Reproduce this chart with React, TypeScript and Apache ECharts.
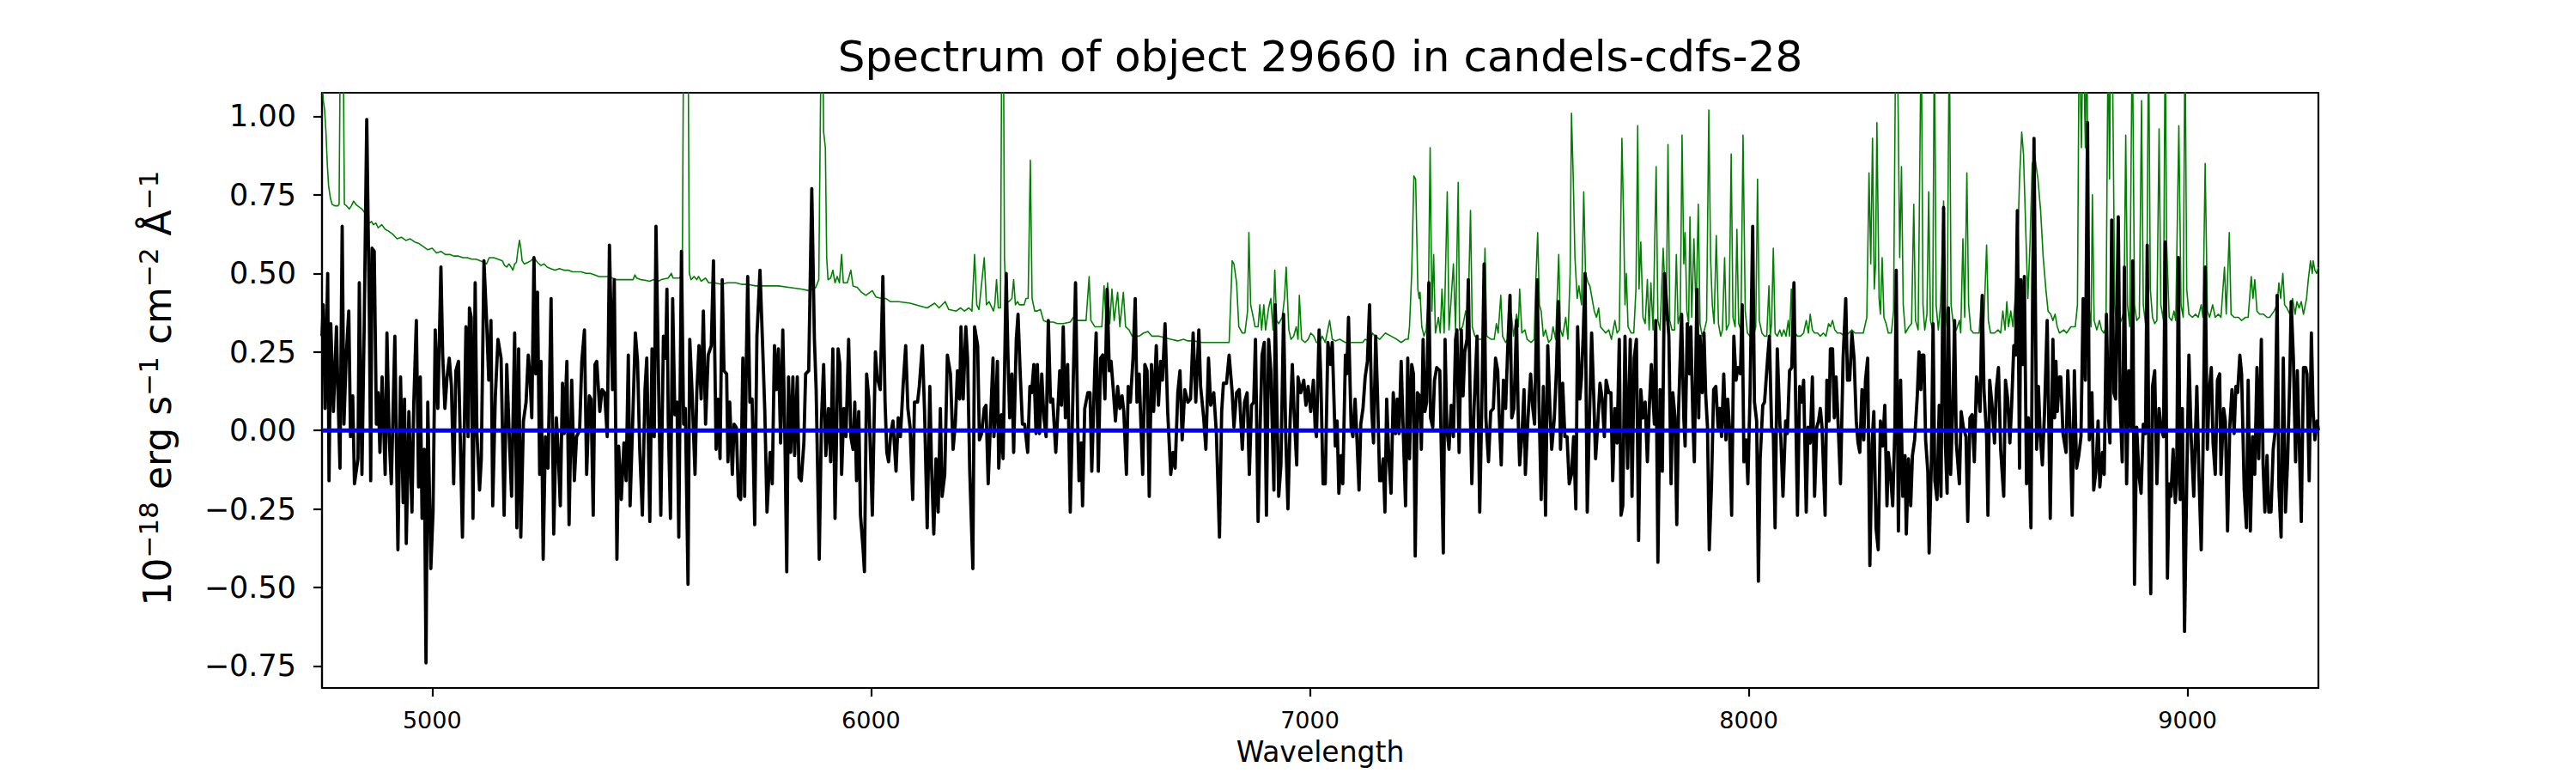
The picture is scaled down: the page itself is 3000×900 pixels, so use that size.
import React, { useEffect, useRef } from 'react';
import * as echarts from 'echarts';

const TITLE = 'Spectrum of object 29660 in candels-cdfs-28';
const X_LABEL = 'Wavelength';
const X_RANGE = [4749, 9298];
const Y_RANGE = [-0.82, 1.075];
const X_TICKS = [5000, 6000, 7000, 8000, 9000];
const Y_TICKS = [-0.75, -0.5, -0.25, 0, 0.25, 0.5, 0.75, 1.0];
const CONTINUUM = [[4749, 0], [9298, 0]];

const FLUX_A = [[4749,0.30],[4752,0.40],[4756,0.07],[4762,0.50],[4765,-0.16],[4769,0.34],[4775,0.06],[4782,0.33],[4785,0.14],[4790,-0.12],[4795,0.65],[4799,0.02],[4804,0.23],[4810,0.38],[4814,-0.02],[4819,0.11],[4823,-0.17],[4831,-0.09],[4834,0.47],[4840,-0.14],[4845,0.32],[4851,0.99],[4857,0.35],[4860,-0.16],[4863,0.58],[4868,0.57],[4873,0.02],[4877,0.12],[4881,-0.07],[4886,0.17],[4893,-0.14],[4897,0.31],[4902,-0.02],[4907,-0.17],[4915,0.30],[4922,-0.38],[4928,0.17],[4934,-0.23],[4937,0.10],[4941,-0.36],[4947,0.06],[4954,-0.26],[4958,0.08],[4964,0.35],[4969,-0.18],[4973,0.17],[4977,-0.28],[4982,-0.06],[4986,-0.74],[4990,0.09],[4997,-0.44],[5002,-0.26],[5007,0.32],[5013,0.07],[5020,0.52],[5024,0.24],[5029,0.07],[5034,0.17],[5039,0.23],[5044,0.14],[5049,-0.17],[5054,0.19],[5060,0.22],[5064,-0.02],[5069,-0.34],[5073,-0.02],[5077,0.33],[5082,-0.02],[5085,0.39],[5089,0.36],[5093,-0.28],[5098,0.47],[5102,-0.01],[5108,-0.19],[5112,-0.09],[5118,0.54],[5124,0.35],[5129,0.16],[5134,0.35],[5138,-0.24],[5144,0.11],[5150,0.29],[5157,0.23],[5164,-0.27],[5170,0.21],[5176,-0.03],[5181,-0.21],[5188,0.31],[5193,-0.31],[5197,0.26],[5202,-0.34],[5208,0.03],[5214,0.09],[5219,0.24],[5223,0.17],[5227,0.04],[5232,0.55],[5236,0.18],[5240,0.44],[5245,-0.14],[5248,0.22],[5253,-0.41],[5258,-0.02],[5264,-0.12],[5271,0.42],[5277,-0.33],[5283,0.04],[5287,-0.06],[5292,-0.24],[5297,0.15],[5301,-0.01],[5307,0.22],[5312,-0.30],[5318,0.16],[5324,-0.16],[5329,-0.02],[5336,0.00],[5341,0.22],[5347,0.32],[5352,-0.14],[5358,0.11],[5362,0.10],[5367,-0.27],[5371,0.21],[5375,0.22],[5382,0.06],[5387,0.13],[5393,0.12],[5399,-0.02],[5404,0.59],[5411,0.13],[5415,0.48],[5421,-0.41],[5425,-0.05],[5431,-0.22],[5437,-0.04],[5442,-0.16],[5447,0.24],[5451,-0.24],[5457,0.03],[5463,0.31],[5468,0.22],[5473,-0.06],[5479,-0.27],[5485,0.13],[5489,0.23],[5496,-0.29],[5501,0.26],[5506,-0.02],[5510,0.65]];

const FLUX_B = [[5521,-0.27],[5527,0.30],[5532,0.23],[5535,0.45],[5538,0.03],[5543,-0.28],[5548,0.42],[5553,0.05],[5558,0.09],[5562,-0.34],[5568,0.57],[5573,0.02],[5577,0.07],[5583,-0.49],[5587,0.29],[5592,0.13],[5599,-0.14],[5603,0.12],[5608,0.27],[5613,0.10],[5618,0.38],[5623,0.02],[5629,0.24],[5636,0.27],[5641,0.54],[5647,-0.06],[5651,0.10],[5656,-0.09],[5661,0.48],[5665,0.19],[5671,0.18],[5674,-0.10],[5678,0.09],[5684,-0.14],[5688,0.02],[5693,0.01],[5698,-0.21],[5703,-0.22],[5708,0.23],[5712,-0.21],[5716,0.23],[5719,0.49],[5724,0.09],[5729,0.10],[5735,-0.30],[5740,0.30],[5747,0.51],[5753,0.27],[5758,0.06],[5763,-0.26],[5770,-0.07],[5775,-0.17],[5780,0.27],[5784,0.13],[5789,0.26],[5794,-0.04],[5799,0.32],[5804,-0.04],[5808,-0.45],[5812,0.17],[5817,-0.07],[5822,0.17],[5826,-0.08],[5832,0.17],[5836,-0.15],[5841,-0.16],[5847,-0.04],[5851,0.18],[5858,0.19],[5865,0.77],[5871,0.29],[5875,0.13],[5882,-0.41],[5887,0.03],[5892,0.21],[5897,-0.08],[5903,0.07],[5908,-0.10],[5913,0.26],[5918,-0.28],[5925,0.26],[5929,0.21],[5933,-0.14],[5938,0.07],[5943,-0.02],[5949,0.29],[5954,-0.02],[5959,-0.06],[5963,0.09],[5967,-0.16],[5972,0.06],[5976,-0.27],[5982,-0.38],[5985,-0.45],[5990,0.18],[5995,0.10],[6003,-0.27],[6010,0.25],[6014,0.17],[6021,0.13],[6027,0.49],[6032,0.09],[6036,-0.07],[6040,-0.10],[6045,-0.01],[6050,0.03],[6057,-0.13],[6062,0.04],[6067,-0.02],[6073,0.14],[6079,0.27],[6084,0.07],[6089,0.01],[6095,-0.22],[6099,0.09],[6106,0.09],[6110,0.14],[6117,0.27],[6122,0.06],[6128,-0.31],[6134,0.14],[6138,-0.12],[6143,-0.33],[6148,-0.09],[6153,-0.26],[6158,0.07],[6162,-0.21],[6168,-0.14],[6174,0.24],[6181,0.18],[6187,-0.06],[6192,0.02],[6197,0.19],[6202,0.10],[6205,0.33],[6210,0.10],[6216,0.33],[6220,0.23],[6225,-0.13],[6232,-0.44],[6236,0.33],[6243,0.27],[6247,-0.03],[6252,-0.01],[6258,0.07],[6262,0.08],[6267,-0.17],[6272,0.02],[6278,0.23]];

const FLUX_C = [[6280,-0.02],[6284,0.06],[6288,0.22],[6291,-0.12],[6297,0.05],[6301,-0.09],[6308,0.50],[6312,0.24],[6316,0.04],[6321,0.18],[6325,-0.07],[6331,0.29],[6335,0.37],[6340,0.18],[6345,0.02],[6350,0.02],[6357,-0.07],[6362,0.14],[6366,0.12],[6371,0.21],[6376,-0.01],[6379,0.21],[6384,-0.01],[6389,0.18],[6394,0.04],[6399,-0.02],[6404,0.35],[6409,0.09],[6414,0.10],[6421,-0.07],[6425,0.04],[6430,0.19],[6434,0.08],[6438,0.33],[6443,0.04],[6448,0.21],[6454,-0.26],[6460,0.11],[6466,0.47],[6471,0.02],[6474,-0.16],[6479,-0.04],[6482,-0.24],[6487,0.07],[6494,0.12],[6499,0.12],[6503,-0.13],[6510,0.20],[6513,0.31],[6518,-0.13],[6523,0.23],[6528,0.24],[6533,0.10],[6538,0.45],[6543,0.19],[6547,0.22],[6552,0.13],[6557,0.03],[6562,0.14],[6567,0.07],[6572,0.11],[6576,0.06],[6582,-0.14],[6586,0.14],[6591,0.09],[6597,0.23],[6602,0.42],[6606,0.09],[6611,0.18],[6616,-0.02],[6619,-0.14],[6624,0.21],[6629,0.19],[6634,-0.21],[6639,0.21],[6644,0.06],[6650,0.27],[6655,0.08],[6660,0.22],[6664,0.16],[6670,0.34],[6676,0.06],[6683,-0.14],[6688,-0.07],[6693,-0.12],[6699,0.12],[6704,0.19],[6709,-0.03],[6715,0.13],[6722,0.09],[6728,0.10],[6734,0.31],[6740,0.09],[6747,0.32],[6751,0.14],[6758,0.04],[6763,-0.06],[6769,0.23],[6774,0.08],[6781,0.12],[6787,-0.01],[6794,-0.34],[6799,0.06],[6803,0.15],[6810,0.15],[6816,0.24],[6823,0.12],[6827,0.01],[6833,0.12],[6839,0.13],[6846,-0.06],[6851,0.09],[6857,0.12],[6862,-0.14],[6867,0.08],[6872,0.09],[6876,0.29],[6882,-0.29],[6886,-0.02],[6891,0.24],[6896,0.28],[6901,-0.27],[6906,0.29],[6911,0.19],[6918,-0.19],[6921,0.40],[6925,0.07],[6929,-0.21],[6934,-0.11],[6940,0.37],[6945,-0.02],[6950,-0.25],[6955,0.03],[6960,0.21],[6964,0.06],[6970,-0.11],[6973,0.17],[6979,0.12],[6986,0.16],[6991,0.08],[6996,0.14],[7002,0.06],[7008,0.16],[7012,0.01],[7015,-0.02],[7021,0.32],[7025,0.16],[7030,-0.17],[7035,-0.17],[7041,0.28]];

const FLUX_D = [[7047,0.21],[7051,0.28],[7058,-0.05],[7062,0.03],[7066,-0.20],[7071,-0.08],[7075,-0.17],[7081,0.24],[7084,0.18],[7088,0.36],[7094,0.01],[7098,-0.02],[7103,0.10],[7107,-0.02],[7112,-0.19],[7116,0.02],[7121,0.07],[7126,0.17],[7131,0.22],[7136,0.40],[7141,0.06],[7145,-0.04],[7150,0.30],[7154,0.12],[7159,-0.16],[7163,-0.16],[7167,-0.09],[7171,-0.26],[7175,0.10],[7180,-0.09],[7185,-0.20],[7190,0.12],[7195,-0.01],[7199,0.10],[7203,-0.01],[7208,0.22],[7212,0.03],[7218,-0.24],[7223,0.23],[7227,-0.09],[7232,0.21],[7236,0.18],[7240,-0.40],[7245,0.12],[7250,0.11],[7254,-0.06],[7258,0.29],[7262,0.06],[7266,0.09],[7271,0.47],[7275,0.04],[7280,0.01],[7284,0.16],[7289,0.20],[7296,0.19],[7304,-0.39],[7308,0.29],[7312,0.01],[7317,-0.06],[7322,0.08],[7327,-0.02],[7332,0.29],[7335,0.32],[7340,-0.07],[7345,0.32],[7349,0.11],[7353,0.25],[7358,0.29],[7361,0.48],[7366,0.03],[7369,-0.17],[7374,0.07],[7381,0.30],[7387,-0.26],[7392,0.10],[7397,0.53],[7401,0.04],[7407,-0.10],[7412,0.06],[7418,0.07],[7423,0.23],[7428,0.19],[7431,0.06],[7436,-0.11],[7441,0.16],[7446,0.07],[7451,0.27],[7456,0.43],[7460,0.04],[7465,0.07],[7471,0.35],[7475,0.02],[7478,-0.11],[7483,-0.02],[7488,0.13],[7491,-0.14],[7497,0.04],[7503,0.18],[7508,0.07],[7512,0.02],[7518,0.48],[7522,0.09],[7527,-0.22],[7532,0.14],[7537,-0.27],[7542,0.27],[7547,0.07],[7551,-0.06],[7557,0.04],[7562,0.20],[7566,0.41],[7571,-0.06],[7576,0.15],[7581,-0.02],[7586,-0.02],[7591,-0.17],[7596,-0.14],[7601,-0.02],[7606,-0.25],[7610,0.33],[7615,0.10],[7619,0.17],[7623,0.31],[7627,0.50],[7632,-0.26],[7636,-0.02],[7642,0.31],[7647,0.10],[7651,-0.09],[7656,0.02],[7661,0.15],[7666,0.10],[7671,-0.02],[7675,0.16],[7681,0.12],[7686,0.12],[7690,-0.16],[7695,0.07],[7700,-0.04],[7705,0.29],[7709,-0.27],[7713,-0.24],[7718,0.30],[7724,-0.12],[7730,0.29],[7734,-0.21],[7739,0.23],[7744,0.29],[7749,-0.35],[7754,0.13],[7759,0.04],[7764,0.09],[7769,-0.10],[7773,0.06],[7778,0.21],[7785,0.02],[7788,0.35],[7793,-0.42],[7798,0.13],[7803,-0.13],[7808,0.50]];

const FLUX_E = [[7818,0.30],[7823,-0.17],[7827,0.12],[7832,0.04],[7836,-0.30],[7840,0.06],[7847,0.37],[7852,0.04],[7855,-0.05],[7860,0.34],[7865,0.18],[7868,0.33],[7873,0.02],[7876,-0.10],[7882,0.45],[7886,0.04],[7889,0.30],[7894,0.12],[7898,0.31],[7902,0.11],[7906,0.01],[7910,-0.38],[7915,-0.18],[7920,0.13],[7925,0.14],[7930,0.01],[7934,0.07],[7938,-0.02],[7943,0.18],[7948,-0.03],[7952,0.10],[7956,0.01],[7961,-0.27],[7966,0.30],[7971,0.16],[7975,0.20],[7981,0.18],[7985,0.40],[7989,-0.10],[7994,-0.03],[7998,-0.17],[8003,0.12],[8009,0.65],[8013,0.09],[8018,0.03],[8022,-0.48],[8026,-0.09],[8032,0.08],[8036,0.09],[8043,0.23],[8047,0.30],[8052,0.01],[8056,-0.01],[8060,-0.31],[8065,0.26],[8071,0.02],[8073,-0.02],[8078,-0.21],[8084,0.03],[8088,-0.01],[8093,0.19],[8098,0.20],[8103,0.47],[8108,-0.02],[8111,-0.27],[8116,0.14],[8121,0.09],[8125,0.16],[8131,-0.26],[8135,0.01],[8140,-0.04],[8145,0.17],[8150,-0.21],[8155,0.01],[8159,0.03],[8163,0.07],[8167,0.01],[8174,-0.27],[8178,0.16],[8183,0.03],[8186,0.26],[8191,0.26],[8195,0.04],[8199,0.17],[8204,0.01],[8209,-0.17],[8215,0.23],[8221,0.42],[8225,0.16],[8230,0.16],[8235,0.31],[8240,0.23],[8245,0.03],[8249,-0.04],[8253,-0.07],[8258,0.13],[8262,-0.03],[8266,0.16],[8271,0.23],[8276,-0.43],[8281,-0.04],[8285,0.06],[8290,-0.31],[8295,-0.38],[8300,0.03],[8305,-0.05],[8310,0.08],[8315,-0.24],[8318,-0.07],[8323,-0.14],[8328,-0.24],[8333,0.01],[8336,0.51],[8341,-0.32],[8346,0.16],[8351,-0.21],[8356,-0.08],[8359,-0.33],[8364,-0.09],[8369,-0.24],[8373,-0.08],[8378,-0.03],[8384,0.11],[8388,0.25],[8392,0.13],[8395,0.24],[8399,0.24],[8403,-0.03],[8408,-0.13],[8411,-0.39],[8416,-0.11],[8420,0.34],[8424,-0.16],[8429,-0.22],[8434,0.08],[8438,-0.21],[8444,0.71],[8448,-0.04],[8452,-0.20],[8455,0.39],[8460,-0.14],[8465,0.07],[8469,0.35],[8473,-0.04],[8480,-0.17],[8484,0.06],[8489,0.01],[8495,-0.02],[8499,-0.29],[8504,0.04],[8509,0.05],[8514,-0.10],[8519,0.17],[8523,0.12],[8527,0.06],[8532,0.43],[8536,0.13],[8542,-0.02],[8545,-0.27],[8549,0.16],[8555,0.07],[8560,-0.04],[8564,0.13],[8569,0.20]];

const FLUX_F = [[8574,-0.06],[8581,-0.21],[8585,0.16],[8590,0.10],[8595,-0.04],[8599,0.08],[8604,0.27],[8608,0.24],[8612,0.70],[8617,-0.12],[8620,0.48],[8625,0.21],[8628,0.49],[8633,-0.17],[8637,0.04],[8643,-0.31],[8647,0.45],[8650,0.93],[8656,-0.06],[8660,0.14],[8664,-0.01],[8669,-0.11],[8674,0.06],[8680,0.35],[8687,-0.28],[8693,0.29],[8697,0.04],[8700,0.22],[8703,0.06],[8708,0.17],[8711,0.17],[8716,-0.01],[8723,-0.07],[8727,0.19],[8732,0.01],[8737,-0.27],[8742,0.19],[8747,-0.12],[8752,-0.08],[8757,-0.02],[8762,0.42],[8767,0.16],[8772,0.98],[8776,-0.03],[8782,0.12],[8786,-0.19],[8791,-0.13],[8796,0.03],[8800,-0.18],[8806,-0.07],[8810,-0.14],[8815,0.37],[8820,0.04],[8823,-0.04],[8827,0.67],[8832,0.12],[8836,0.10],[8842,0.68],[8846,0.10],[8851,-0.10],[8856,0.52],[8861,-0.17],[8866,0.19],[8871,0.01],[8875,0.54],[8879,-0.49],[8884,0.01],[8889,-0.14],[8894,-0.20],[8899,0.02],[8904,-0.01],[8908,0.59],[8912,-0.14],[8916,-0.52],[8920,0.14],[8925,0.19],[8930,-0.17],[8935,0.07],[8939,0.01],[8945,-0.02],[8949,0.60],[8954,-0.47],[8958,-0.17],[8962,-0.21],[8967,-0.06],[8972,-0.23],[8975,-0.17],[8979,0.55],[8983,-0.22],[8988,0.07],[8993,-0.64],[8998,-0.16],[9003,0.24],[9008,-0.02],[9014,-0.21],[9021,0.14],[9026,-0.15],[9031,-0.38],[9035,-0.07],[9040,0.52],[9045,-0.06],[9049,0.12],[9054,0.20],[9058,-0.04],[9063,-0.14],[9068,0.16],[9073,0.18],[9076,-0.14],[9082,0.07],[9086,0.03],[9091,-0.32],[9096,0.01],[9101,0.13],[9106,-0.01],[9110,0.14],[9114,0.12],[9119,0.24],[9123,0.18],[9129,-0.19],[9134,-0.31],[9138,0.16],[9143,-0.32],[9148,-0.02],[9153,-0.14],[9158,0.20],[9162,-0.09],[9168,0.29],[9172,-0.11],[9176,-0.26],[9181,-0.08],[9185,-0.26],[9190,-0.26],[9195,-0.06],[9199,-0.01],[9204,0.43],[9208,-0.18],[9213,-0.34],[9218,0.23],[9223,-0.26],[9228,-0.09],[9233,0.18],[9236,0.41],[9241,0.23],[9246,-0.10],[9250,0.19],[9254,-0.02],[9259,-0.29],[9264,0.20],[9269,0.20],[9272,0.18],[9277,-0.16],[9282,0.31],[9286,0.06],[9290,-0.03],[9295,0.03],[9298,0.00]];

const NOISE_A = [[4749,1.12],[4752,1.05],[4755,1.02],[4758,0.95],[4761,0.85],[4764,0.78],[4768,0.74],[4772,0.72],[4778,0.715],[4785,0.715],[4788,0.72],[4791,1.3],[4794,1.4],[4797,1.3],[4800,0.72],[4805,0.715],[4811,0.705],[4816,0.715],[4821,0.73],[4826,0.72],[4830,0.715],[4840,0.705],[4848,0.69],[4852,0.67],[4857,0.66],[4862,0.665],[4866,0.655],[4872,0.66],[4877,0.645],[4885,0.655],[4893,0.64],[4900,0.635],[4910,0.625],[4920,0.61],[4930,0.615],[4940,0.605],[4950,0.61],[4960,0.60],[4970,0.595],[4980,0.585],[4990,0.575],[5000,0.58],[5010,0.565],[5020,0.57],[5030,0.56],[5040,0.56],[5050,0.555],[5060,0.555],[5070,0.55],[5080,0.55],[5090,0.545],[5100,0.545],[5110,0.54],[5118,0.535],[5124,0.53],[5130,0.55],[5140,0.55],[5150,0.545],[5160,0.54],[5165,0.525],[5170,0.52],[5175,0.53],[5180,0.52],[5184,0.51],[5188,0.53],[5192,0.535],[5196,0.58],[5199,0.605],[5202,0.58],[5205,0.54],[5210,0.53],[5218,0.535],[5225,0.54],[5232,0.55],[5240,0.535],[5248,0.525],[5255,0.53],[5262,0.52],[5270,0.515],[5280,0.51],[5290,0.515],[5300,0.51],[5310,0.51],[5320,0.505],[5330,0.505],[5340,0.505],[5350,0.50],[5360,0.50],[5370,0.495],[5380,0.49],[5390,0.49],[5400,0.49],[5410,0.485],[5420,0.48],[5430,0.48],[5440,0.48],[5450,0.48],[5458,0.48],[5462,0.495],[5466,0.485],[5475,0.48],[5485,0.478],[5495,0.475],[5505,0.48],[5515,0.475]];

const NOISE_B = [[5522,0.48],[5538,0.485],[5545,0.50],[5549,0.485],[5564,0.485],[5570,0.50],[5573,1.3],[5575,1.6],[5579,1.6],[5583,1.3],[5586,0.50],[5590,0.48],[5597,0.49],[5603,0.48],[5607,0.49],[5613,0.475],[5623,0.485],[5630,0.47],[5643,0.47],[5659,0.465],[5672,0.47],[5692,0.47],[5705,0.465],[5718,0.465],[5737,0.46],[5763,0.46],[5789,0.46],[5815,0.455],[5841,0.45],[5858,0.445],[5874,0.455],[5881,0.48],[5886,1.2],[5889,1.4],[5892,0.95],[5896,0.90],[5899,0.55],[5902,0.48],[5908,0.485],[5913,0.51],[5918,0.47],[5923,0.49],[5928,0.47],[5933,0.56],[5937,0.47],[5946,0.47],[5954,0.51],[5959,0.46],[5969,0.455],[5978,0.44],[5988,0.43],[6003,0.445],[6011,0.425],[6024,0.42],[6034,0.42],[6044,0.41],[6063,0.41],[6089,0.405],[6115,0.395],[6128,0.39],[6145,0.405],[6155,0.39],[6169,0.41],[6177,0.385],[6194,0.38],[6204,0.39],[6213,0.38],[6223,0.39],[6230,0.38],[6236,0.56],[6241,0.40],[6246,0.385],[6258,0.55],[6263,0.40],[6269,0.41],[6279,0.38]];

const NOISE_C = [[6282,0.40],[6286,0.48],[6290,0.39],[6295,0.39],[6298,1.3],[6301,1.5],[6304,0.55],[6308,0.41],[6314,0.41],[6321,0.42],[6325,0.48],[6329,0.40],[6334,0.41],[6338,0.40],[6344,0.40],[6349,0.40],[6353,0.42],[6358,0.42],[6363,0.86],[6367,0.42],[6373,0.38],[6379,0.38],[6386,0.385],[6393,0.35],[6402,0.345],[6415,0.345],[6425,0.34],[6438,0.34],[6454,0.345],[6461,0.36],[6471,0.35],[6481,0.35],[6490,0.35],[6497,0.49],[6501,0.35],[6510,0.33],[6520,0.33],[6526,0.33],[6531,0.46],[6536,0.34],[6539,0.47],[6544,0.34],[6549,0.45],[6554,0.35],[6562,0.44],[6567,0.33],[6575,0.44],[6580,0.33],[6588,0.32],[6595,0.30],[6611,0.30],[6621,0.31],[6631,0.315],[6640,0.30],[6657,0.30],[6683,0.29],[6699,0.285],[6712,0.29],[6722,0.285],[6735,0.285],[6754,0.28],[6787,0.28],[6807,0.28],[6816,0.28],[6823,0.54],[6827,0.53],[6833,0.47],[6838,0.33],[6846,0.31],[6852,0.31],[6858,0.38],[6861,0.63],[6865,0.40],[6871,0.36],[6875,0.33],[6882,0.33],[6886,0.40],[6890,0.32],[6895,0.40],[6899,0.32],[6906,0.39],[6911,0.42],[6916,0.32],[6920,0.51],[6924,0.35],[6929,0.34],[6937,0.36],[6942,0.42],[6946,0.52],[6952,0.32],[6957,0.29],[6963,0.30],[6969,0.33],[6973,0.29],[6976,0.43],[6981,0.29],[6989,0.28],[6996,0.29],[7002,0.31],[7009,0.30],[7015,0.28],[7022,0.28],[7028,0.30],[7035,0.28],[7045,0.35]];

const NOISE_D = [[7051,0.29],[7058,0.285],[7068,0.29],[7081,0.28],[7094,0.28],[7107,0.28],[7120,0.28],[7126,0.29],[7133,0.285],[7139,0.28],[7142,0.31],[7149,0.30],[7159,0.29],[7172,0.31],[7185,0.30],[7198,0.29],[7208,0.28],[7218,0.29],[7224,0.29],[7227,0.33],[7232,0.50],[7237,0.81],[7241,0.80],[7246,0.45],[7249,0.42],[7251,0.44],[7255,0.33],[7260,0.30],[7265,0.32],[7270,0.42],[7274,0.90],[7278,0.38],[7282,0.56],[7286,0.31],[7293,0.36],[7297,0.31],[7301,0.45],[7306,0.31],[7313,0.76],[7317,0.32],[7322,0.42],[7327,0.53],[7332,0.32],[7338,0.79],[7341,0.32],[7348,0.33],[7355,0.38],[7360,0.34],[7366,0.70],[7370,0.33],[7376,0.30],[7384,0.29],[7394,0.29],[7399,0.58],[7403,0.30],[7413,0.29],[7420,0.29],[7425,0.34],[7429,0.31],[7435,0.43],[7439,0.30],[7446,0.28],[7451,0.29],[7459,0.37],[7464,0.30],[7471,0.37],[7475,0.33],[7478,0.45],[7483,0.31],[7490,0.32],[7495,0.29],[7504,0.28],[7511,0.29],[7515,0.48],[7519,0.63],[7523,0.40],[7527,0.38],[7532,0.30],[7537,0.32],[7544,0.28],[7550,0.29],[7554,0.33],[7560,0.29],[7567,0.56],[7571,0.32],[7576,0.30],[7583,0.36],[7588,0.29],[7593,0.50],[7596,1.01],[7600,0.81],[7604,0.55],[7609,0.42],[7613,0.46],[7619,0.40],[7624,0.76],[7628,0.50],[7634,0.47],[7638,0.46],[7643,0.42],[7648,0.38],[7653,0.36],[7658,0.39],[7662,0.33],[7668,0.32],[7674,0.31],[7681,0.32],[7687,0.29],[7695,0.35],[7700,0.31],[7705,0.32],[7711,0.93],[7715,0.66],[7718,0.40],[7721,0.50],[7725,0.33],[7732,0.31],[7738,0.31],[7743,0.45],[7747,0.97],[7750,0.45],[7754,0.60],[7759,0.36],[7764,0.34],[7769,0.48],[7773,0.32],[7777,0.47],[7782,0.32],[7789,0.84],[7793,0.35],[7798,0.32],[7805,0.58]];

const NOISE_E = [[7812,0.35],[7816,0.91],[7820,0.35],[7825,0.32],[7831,0.32],[7835,0.56],[7839,0.34],[7844,0.37],[7848,0.94],[7852,0.53],[7855,0.63],[7859,0.38],[7863,0.34],[7866,0.68],[7870,0.36],[7875,0.61],[7880,0.38],[7885,0.72],[7889,0.34],[7894,0.30],[7899,0.32],[7904,0.35],[7909,1.02],[7913,0.55],[7917,0.40],[7921,0.34],[7926,0.62],[7931,0.34],[7936,0.30],[7940,0.32],[7945,0.55],[7949,0.32],[7955,0.34],[7960,0.88],[7964,0.36],[7969,0.33],[7973,0.64],[7977,0.34],[7982,0.32],[7987,0.94],[7992,0.38],[7997,0.31],[8003,0.30],[8010,0.30],[8016,0.33],[8020,0.80],[8024,0.35],[8030,0.31],[8036,0.30],[8041,0.30],[8046,0.46],[8049,0.30],[8052,0.34],[8056,0.58],[8060,0.31],[8065,0.30],[8071,0.32],[8075,0.30],[8080,0.32],[8085,0.30],[8090,0.35],[8093,0.30],[8097,0.45],[8101,0.33],[8106,0.31],[8111,0.30],[8118,0.30],[8125,0.31],[8131,0.35],[8136,0.31],[8140,0.37],[8145,0.32],[8150,0.31],[8157,0.31],[8163,0.30],[8170,0.31],[8176,0.30],[8182,0.34],[8186,0.33],[8191,0.35],[8196,0.32],[8202,0.31],[8209,0.31],[8219,0.30],[8228,0.31],[8235,0.32],[8242,0.31],[8248,0.31],[8261,0.31],[8269,0.36],[8274,0.82],[8278,0.53],[8282,0.93],[8286,0.45],[8289,0.53],[8292,0.98],[8297,0.42],[8300,0.37],[8304,0.55],[8308,0.36],[8313,0.34],[8318,0.31],[8325,0.31],[8330,0.38],[8335,1.3],[8339,1.2],[8344,0.55],[8348,0.84],[8352,0.40],[8357,0.31],[8365,0.33],[8371,0.34],[8376,0.72],[8380,0.35],[8386,0.32],[8393,1.3],[8397,0.40],[8401,0.32],[8406,0.37],[8410,0.76],[8414,0.35],[8419,0.32],[8423,1.3],[8427,0.40],[8432,0.32],[8437,0.40],[8444,0.73],[8447,0.40],[8452,0.33],[8457,1.3],[8461,0.40],[8467,0.33],[8473,0.32],[8480,0.35],[8483,0.31],[8488,0.61],[8492,0.36],[8497,0.82],[8501,0.40],[8506,0.32],[8512,0.31],[8519,0.31],[8525,0.31],[8530,0.42],[8535,0.32],[8542,0.59],[8546,0.35],[8551,0.31],[8560,0.31],[8568,0.32]];

const NOISE_F = [[8574,0.31],[8579,0.38],[8584,0.32],[8588,0.41],[8592,0.33],[8597,0.38],[8602,0.33],[8607,0.42],[8612,0.55],[8617,0.80],[8622,0.95],[8626,0.88],[8632,0.60],[8636,0.42],[8641,0.60],[8646,0.85],[8652,0.87],[8659,0.80],[8665,0.70],[8671,0.55],[8677,0.45],[8682,0.38],[8688,0.37],[8693,0.35],[8698,0.37],[8703,0.33],[8708,0.31],[8718,0.32],[8724,0.31],[8734,0.33],[8744,0.33],[8749,0.40],[8753,1.3],[8758,0.90],[8762,1.3],[8767,0.90],[8770,1.3],[8775,0.40],[8780,0.33],[8783,0.75],[8787,0.35],[8793,0.32],[8799,0.35],[8804,0.32],[8809,0.31],[8814,0.33],[8819,1.3],[8822,0.80],[8825,1.3],[8828,1.3],[8834,0.40],[8838,0.33],[8845,0.34],[8849,0.35],[8855,0.38],[8859,0.94],[8863,0.40],[8868,0.33],[8874,1.3],[8879,0.40],[8884,0.35],[8890,0.36],[8895,1.05],[8899,0.40],[8904,0.34],[8907,0.42],[8911,1.3],[8915,0.45],[8920,0.36],[8925,0.34],[8930,0.35],[8935,0.96],[8939,0.40],[8945,0.35],[8949,1.3],[8952,0.60],[8958,0.36],[8964,0.35],[8969,0.38],[8973,0.35],[8980,0.97],[8985,0.40],[8990,0.36],[8994,1.3],[8998,0.45],[9003,0.37],[9011,0.36],[9018,0.37],[9024,0.36],[9031,0.40],[9035,0.36],[9040,0.85],[9045,0.38],[9050,0.36],[9057,0.40],[9063,0.36],[9070,0.37],[9076,0.36],[9084,0.52],[9088,0.37],[9095,0.63],[9099,0.37],[9106,0.36],[9116,0.36],[9123,0.35],[9132,0.36],[9138,0.36],[9145,0.49],[9149,0.42],[9153,0.48],[9158,0.38],[9164,0.37],[9173,0.37],[9181,0.36],[9187,0.36],[9197,0.38],[9204,0.40],[9208,0.47],[9212,0.42],[9217,0.50],[9221,0.40],[9226,0.39],[9233,0.37],[9239,0.42],[9245,0.37],[9249,0.41],[9254,0.39],[9259,0.41],[9264,0.37],[9271,0.42],[9275,0.48],[9280,0.54],[9284,0.50],[9286,0.54],[9290,0.51],[9294,0.50],[9298,0.52]];

const FLUX = [...FLUX_A, ...FLUX_B, ...FLUX_C, ...FLUX_D, ...FLUX_E, ...FLUX_F];
const NOISE = [...NOISE_A, ...NOISE_B, ...NOISE_C, ...NOISE_D, ...NOISE_E, ...NOISE_F];

const FONT = 'DejaVu Sans';

function fmtY(v: number): string {
  const s = Math.abs(v).toFixed(2);
  return v < 0 ? '\u2212' + s : s;
}

export default function App() {
  const ref = useRef<HTMLDivElement>(null);
  useEffect(() => {
    document.body.style.margin = '0';
    const chart = echarts.init(ref.current as HTMLDivElement, null, { renderer: 'svg' });
    const gridLeft = 375, gridRight = 300, gridTop = 108, gridBottom = 99;
    const cx = (gridLeft + (3000 - gridRight)) / 2;
    chart.setOption({
      animation: false,
      backgroundColor: '#ffffff',
      grid: {
        left: gridLeft, right: gridRight, top: gridTop, bottom: gridBottom,
        show: true, borderColor: '#000000', borderWidth: 2.2, backgroundColor: 'transparent',
        containLabel: false,
      },
      xAxis: {
        type: 'value', min: X_RANGE[0], max: X_RANGE[1],
        axisLine: { show: true, onZero: false, lineStyle: { color: '#000', width: 2.2 } },
        axisTick: { show: true, length: 10, lineStyle: { color: '#000', width: 2.2 }, customValues: X_TICKS },
        axisLabel: { show: true, customValues: X_TICKS, fontSize: 27, fontFamily: FONT, color: '#000', margin: 24,
          formatter: (v: number) => String(v) },
        splitLine: { show: false },
      },
      yAxis: {
        type: 'value', min: Y_RANGE[0], max: Y_RANGE[1],
        axisLine: { show: true, onZero: false, lineStyle: { color: '#000', width: 2.2 } },
        axisTick: { show: true, length: 10, lineStyle: { color: '#000', width: 2.2 }, customValues: Y_TICKS },
        axisLabel: { show: true, customValues: Y_TICKS, fontSize: 35, fontFamily: FONT, color: '#000', margin: 30,
          formatter: (v: number) => fmtY(v) },
        splitLine: { show: false },
      },
      series: [
        {
          type: 'line', data: NOISE, showSymbol: false, symbol: 'none', z: 2,
          lineStyle: { color: '#008000', width: 1.6, join: 'round' }, clip: true,
        },
        {
          type: 'line', data: FLUX, showSymbol: false, symbol: 'none', z: 3,
          lineStyle: { color: '#000000', width: 3.8, join: 'round' }, clip: true,
        },
        {
          type: 'line', data: CONTINUUM, showSymbol: false, symbol: 'none', z: 4,
          lineStyle: { color: '#0000ff', width: 5 }, clip: true,
        },
      ],
      graphic: [
        {
          type: 'text', x: cx, y: 66, z: 10,
          style: { text: TITLE, fontSize: 50, fontFamily: FONT, fill: '#000', align: 'center', verticalAlign: 'middle' },
        },
        {
          type: 'text', x: cx, y: 875, z: 10,
          style: { text: X_LABEL, fontSize: 33, fontFamily: FONT, fill: '#000', align: 'center', verticalAlign: 'middle' },
        },
        {
          type: 'text', x: 181, y: 452, rotation: Math.PI / 2, z: 10,
          style: {
            text: '{b|10}{s|\u221218}{b| erg s}{s|\u22121}{b| cm}{s|\u22122}{b| \u00c5}{s|\u22121}',
            fontSize: 44, fontFamily: FONT, fill: '#000', align: 'center', verticalAlign: 'middle',
            rich: {
              b: { fontSize: 44, fontFamily: FONT, fill: '#000', lineHeight: 48, verticalAlign: 'bottom' },
              s: { fontSize: 31, fontFamily: FONT, fill: '#000', lineHeight: 33, padding: [0, 0, 21, 0], verticalAlign: 'top' },
            },
          },
        },
      ],
    });
    return () => chart.dispose();
  }, []);
  return <div ref={ref} style={{ width: 3000, height: 900 }} />;
}
